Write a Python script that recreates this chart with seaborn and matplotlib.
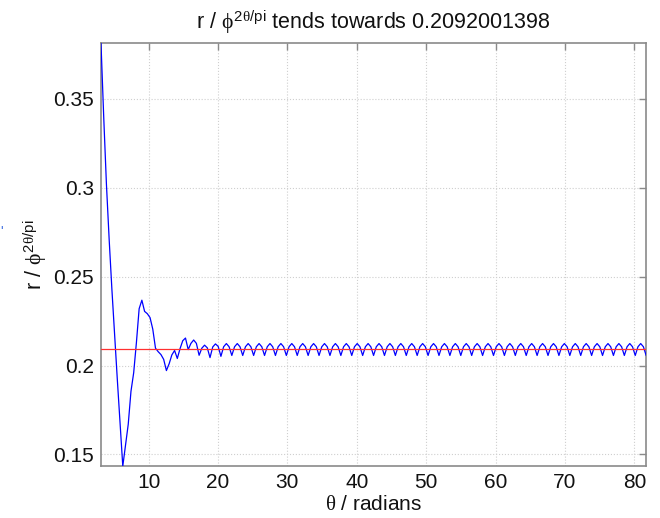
import numpy as np
import pandas as pd
import seaborn as sns
import matplotlib
matplotlib.use("Agg")
import matplotlib.pyplot as plt

# ---------------- data ----------------
THETA_START = 3.14159          # first sample (pi)
THETA_STEP = 0.392699          # samples every pi/8 radians
LIMIT = 0.2092001398

ratio = [
    0.3815, 0.3400, 0.3020, 0.2710, 0.2430, 0.2170, 0.1920, 0.1680,
    0.1434, 0.1550, 0.1670, 0.1855, 0.1960, 0.2130, 0.2320, 0.2368,
    0.2305, 0.2292, 0.2270, 0.2205, 0.2098, 0.2078, 0.2062, 0.2035,
    0.1972, 0.2010, 0.2060, 0.2085, 0.2040, 0.2095, 0.2140, 0.2155,
    0.2090, 0.2125, 0.2144, 0.2125, 0.2058, 0.2098, 0.2115, 0.2100,
    0.2045, 0.2105, 0.2122, 0.2108, 0.2052,
    0.2106, 0.2124, 0.2106, 0.2057,
    0.2106, 0.2124, 0.2106, 0.2057,
    0.2106, 0.2124, 0.2106, 0.2057,
    0.2106, 0.2124, 0.2106, 0.2057,
    0.2106, 0.2124, 0.2106, 0.2057,
    0.2106, 0.2124, 0.2106, 0.2057,
    0.2106, 0.2124, 0.2106, 0.2057,
    0.2106, 0.2124, 0.2106, 0.2057,
    0.2106, 0.2124, 0.2106, 0.2057,
    0.2106, 0.2124, 0.2106, 0.2057,
    0.2106, 0.2124, 0.2106, 0.2057,
    0.2106, 0.2124, 0.2106, 0.2057,
    0.2106, 0.2124, 0.2106, 0.2057,
    0.2106, 0.2124, 0.2106, 0.2057,
    0.2106, 0.2124, 0.2106, 0.2057,
    0.2106, 0.2124, 0.2106, 0.2057,
    0.2106, 0.2124, 0.2106, 0.2057,
    0.2106, 0.2124, 0.2106, 0.2057,
    0.2106, 0.2124, 0.2106, 0.2057,
    0.2106, 0.2124, 0.2106, 0.2057,
    0.2106, 0.2124, 0.2106, 0.2057,
    0.2106, 0.2124, 0.2106, 0.2057,
    0.2106, 0.2124, 0.2106, 0.2057,
    0.2106, 0.2124, 0.2106, 0.2057,
    0.2106, 0.2124, 0.2106, 0.2057,
    0.2106, 0.2124, 0.2106, 0.2057,
    0.2106, 0.2124, 0.2106, 0.2057,
    0.2106, 0.2124, 0.2106, 0.2057,
    0.2106, 0.2124, 0.2106, 0.2057,
    0.2106, 0.2124, 0.2106, 0.2057,
    0.2106, 0.2124, 0.2106, 0.2057,
    0.2106, 0.2124, 0.2106, 0.2057,
    0.2106, 0.2124, 0.2106, 0.2057,
    0.2106, 0.2124, 0.2106, 0.2057,
    0.2106, 0.2124, 0.2106, 0.2057,
    0.2106, 0.2124, 0.2106, 0.2057,
    0.2106, 0.2124, 0.2106, 0.2057,
    0.2106, 0.2124, 0.2106, 0.2057,
    0.2106, 0.2124, 0.2106, 0.2057,
]

x_ticks = [10, 20, 30, 40, 50, 60, 70, 80]
x_tick_labels = ["10", "20", "30", "40", "50", "60", "70", "80"]
y_ticks = [0.15, 0.2, 0.25, 0.3, 0.35]
y_tick_labels = ["0.15", "0.2", "0.25", "0.3", "0.35"]

title_text = r"r / $\phi^{2\theta/\mathrm{pi}}$ tends towards 0.2092001398"
x_label = r"$\theta$ / radians"
y_label = r"r / $\phi^{2\theta/\mathrm{pi}}$"

theta = THETA_START + THETA_STEP * np.arange(len(ratio))
df = pd.DataFrame({"theta": theta, "ratio": ratio})

# ---------------- style ----------------
sns.set_theme(style="white")
plt.rcParams["font.family"] = ["Liberation Sans", "DejaVu Sans"]
plt.rcParams["mathtext.fontset"] = "custom"
plt.rcParams["mathtext.rm"] = "Liberation Sans"
plt.rcParams["mathtext.it"] = "Liberation Serif"
plt.rcParams["mathtext.bf"] = "Liberation Sans:bold"

fig = plt.figure(figsize=(6.6, 5.18), dpi=100)
fig.patch.set_facecolor("white")
ax = fig.add_axes([0.153, 0.100, 0.826, 0.817])

sns.lineplot(data=df, x="theta", y="ratio", ax=ax, color="#0000ff",
             linewidth=0.9, sort=False, estimator=None, zorder=3)
ax.axhline(LIMIT, color="#ff3030", linewidth=0.9, zorder=4)

ax.set_xlim(df["theta"].min(), df["theta"].max())
ax.set_ylim(df["ratio"].min(), df["ratio"].max())
ax.set_xticks(x_ticks)
ax.set_xticklabels(x_tick_labels)
ax.set_yticks(y_ticks)
ax.set_yticklabels(y_tick_labels)

ax.grid(True, linestyle=":", color="#cfcfcf", linewidth=0.8, zorder=0)
ax.tick_params(direction="in", length=5, width=1, top=True, right=True,
               labelsize=15, colors="#8a8a8a", labelcolor="#111111", pad=5)
for s in ax.spines.values():
    s.set_color("#8a8a8a")
    s.set_linewidth(1.2)

ax.set_title(title_text, fontsize=15.5, color="#111111", pad=10)
ax.set_xlabel(x_label, fontsize=15, color="#111111", labelpad=2)
ax.set_ylabel(y_label, fontsize=15.5, color="#111111", labelpad=3)

# small blue fragment at the far left edge of the reference image
fig.text(0.0, 0.545, "'", color="#3f6fe0", fontsize=10)

fig.savefig("out.png", dpi=100, facecolor="white")
